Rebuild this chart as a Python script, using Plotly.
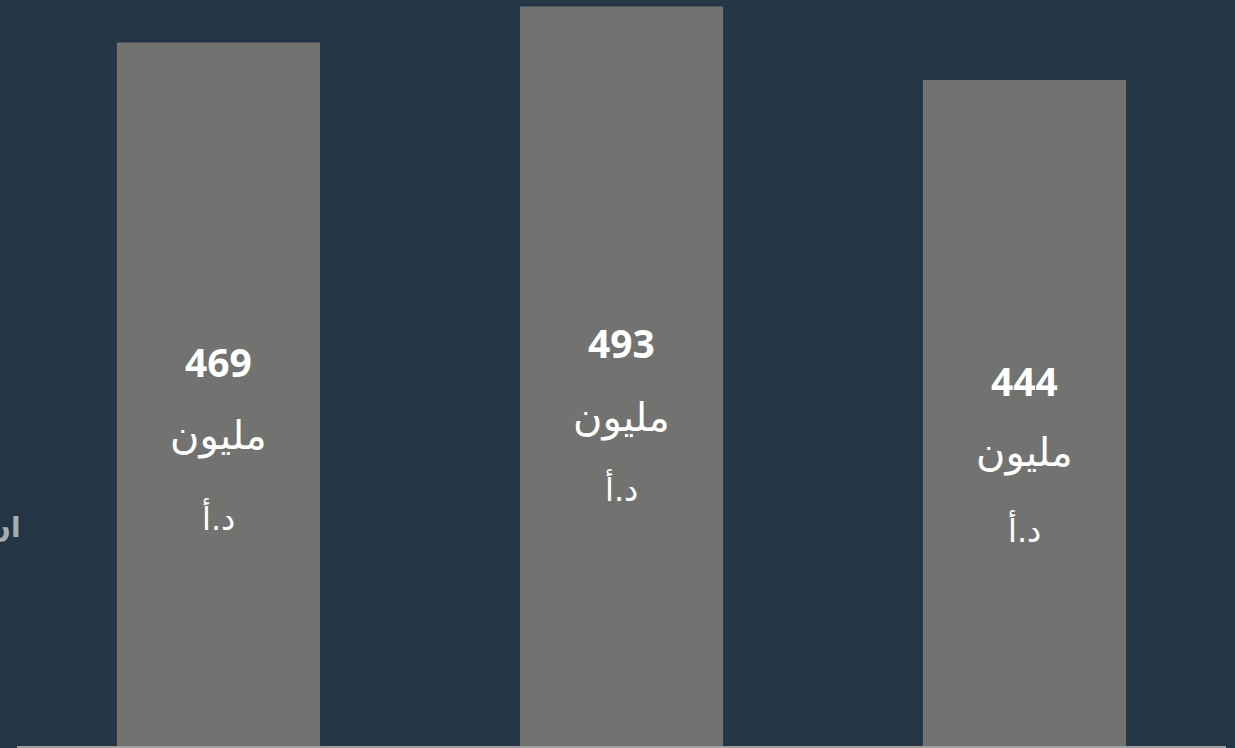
import plotly.graph_objects as go

categories = ["0", "1", "2"]
values = [469, 493, 444]
value_labels = ["469", "493", "444"]
unit_line1 = "مليون"
unit_line2 = "د.أ"
side_label = "ان"

BG = "#243646"
BAR = "#727371"

fig = go.Figure()
fig.add_trace(go.Bar(
    x=categories, y=values,
    marker=dict(color=BAR, line=dict(width=0)),
    width=0.504,
    hoverinfo="skip",
))

num_shift = [33, 34, 33]
l1_shift = [-41, -41, -39]
l2_shift = [-124, -113, -117]

ann = []
for i, (c, v, lab) in enumerate(zip(categories, values, value_labels)):
    ann.append(dict(x=c, y=v / 2, xref="x", yref="y", text="<b>" + lab + "</b>",
                    showarrow=False, yshift=num_shift[i],
                    font=dict(family="Noto Sans, DejaVu Sans", size=39, color="white")))
    ann.append(dict(x=c, y=v / 2, xref="x", yref="y", text=unit_line1,
                    showarrow=False, yshift=l1_shift[i],
                    font=dict(family="DejaVu Sans", size=40, color="white")))
    ann.append(dict(x=c, y=v / 2, xref="x", yref="y", text=unit_line2,
                    showarrow=False, yshift=l2_shift[i],
                    font=dict(family="DejaVu Sans", size=32, color="white")))

W, H = 1235, 748
ml, mr, mt, mb = 17, 9, 0, 2
pw, ph = W - ml - mr, H - mt - mb
ann.append(dict(x=(23 - ml) / pw, y=(H - mb - 527) / ph, xref="paper", yref="paper",
                text="<b>" + side_label + "</b>",
                showarrow=False, xanchor="right", yanchor="middle",
                font=dict(family="DejaVu Sans", size=28, color="#a9adb1")))

fig.update_layout(
    width=W, height=H,
    margin=dict(l=ml, r=mr, t=mt, b=mb, pad=0),
    paper_bgcolor=BG, plot_bgcolor=BG,
    showlegend=False,
    xaxis=dict(range=[-0.5, 2.5], showticklabels=False, showgrid=False, zeroline=False,
               showline=True, linecolor="#a0a0a0", linewidth=2, ticks=""),
    yaxis=dict(range=[0, 746 / 1.5], visible=False, showgrid=False, zeroline=False),
    annotations=ann,
)
fig.write_html("out.html", config={"displayModeBar": False},
               post_script="document.body.style.margin='0';")
